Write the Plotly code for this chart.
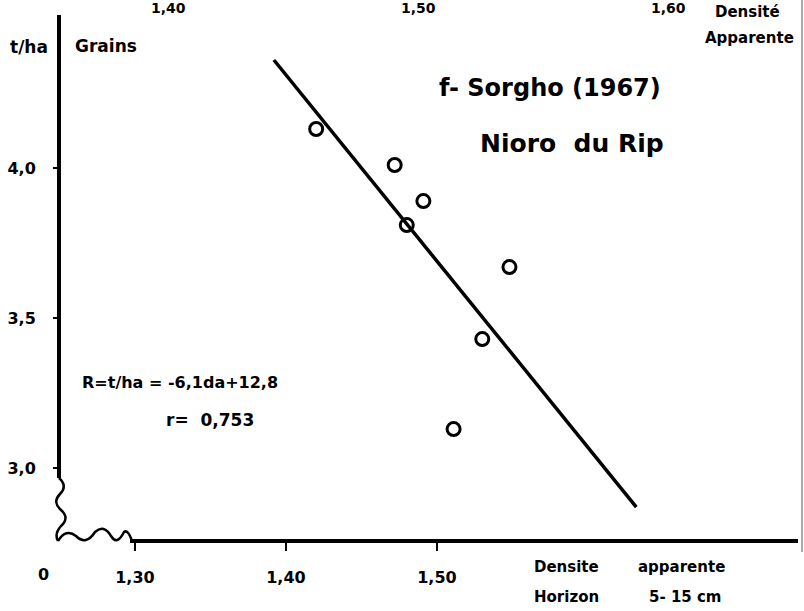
import plotly.graph_objects as go

# ---- data ----
density = [1.420, 1.472, 1.480, 1.491, 1.548, 1.530, 1.511]
yield_tha = [4.13, 4.01, 3.81, 3.89, 3.67, 3.43, 3.13]
reg_x = [1.392, 1.632]
reg_y = [4.36, 2.87]
x_ticks = [1.30, 1.40, 1.50]
x_ticktext = ["1,30", "1,40", "1,50"]
y_ticks = [3.0, 3.5, 4.0]
y_ticktext = ["3,0", "3,5", "4,0"]
top_ticks = [1.40, 1.50, 1.60]
top_ticktext = ["1,40", "1,50", "1,60"]

W, H = 804, 611
L, R, T, B = 59, 4, 15, 70
PW, PH = W - L - R, H - T - B
FONT = "DejaVu Sans, Liberation Sans, Arial"


def px(x):
    return (x - L) / PW


def py(y):
    return (H - B - y) / PH


fig = go.Figure()
fig.add_trace(go.Scatter(x=reg_x, y=reg_y, mode="lines",
                         line=dict(color="black", width=3.5), hoverinfo="skip"))
fig.add_trace(go.Scatter(x=density, y=yield_tha, mode="markers",
                         marker=dict(symbol="circle-open", size=13, color="black",
                                     line=dict(width=3, color="black"))))
fig.add_trace(go.Scatter(x=top_ticks, y=[None] * len(top_ticks), xaxis="x2",
                         mode="markers", hoverinfo="skip"))

fig.update_layout(
    width=W, height=H, showlegend=False,
    paper_bgcolor="white", plot_bgcolor="white",
    margin=dict(l=L, r=R, t=T, b=B),
    font=dict(family=FONT, color="black"),
    xaxis=dict(range=[1.2497, 1.7404], showgrid=False, zeroline=False, showline=False,
               tickvals=x_ticks, ticktext=x_ticktext, ticks="outside", ticklen=9,
               tickwidth=2, tickcolor="black", ticklabelstandoff=13,
               tickfont=dict(size=16, family=FONT, weight="bold")),
    xaxis2=dict(overlaying="x", side="top", range=[1.3564, 1.6528], showgrid=False,
                zeroline=False, showline=False, showticklabels=False, ticks=""),
    yaxis=dict(range=[2.757, 4.51], showgrid=False, zeroline=False, showline=False,
               tickvals=y_ticks, ticktext=y_ticktext, ticks="outside", ticklen=5,
               tickwidth=2, tickcolor="black", ticklabelstandoff=14,
               tickfont=dict(size=16, family=FONT, weight="bold")),
)

# axis lines with breaks
shapes = [
    dict(type="line", xref="paper", yref="paper", x0=0, x1=0, y0=py(478), y1=1,
         line=dict(color="black", width=4)),
    dict(type="line", xref="paper", yref="paper", x0=px(130), x1=px(798), y0=0, y1=0,
         line=dict(color="black", width=4)),
    dict(type="line", xref="paper", yref="paper", x0=px(802), x1=px(802), y0=py(552),
         y1=py(0), line=dict(color="#555555", width=1)),
]


def path(pts):
    s = "M %f,%f" % (px(pts[0][0]), py(pts[0][1]))
    for i in range(1, len(pts) - 1, 2):
        s += " Q %f,%f %f,%f" % (px(pts[i][0]), py(pts[i][1]), px(pts[i + 1][0]), py(pts[i + 1][1]))
    return s


wave_y = [(59, 478), (68, 486), (60, 494), (52, 502), (61, 510), (70, 518), (61, 526),
          (54, 534), (58, 541)]
wave_x = [(58, 541), (66, 528), (76, 536), (86, 546), (95, 532), (104, 524), (111, 536),
          (117, 546), (124, 532), (128, 529), (132, 541)]
for wv in (wave_y, wave_x):
    shapes.append(dict(type="path", xref="paper", yref="paper", path=path(wv),
                       line=dict(color="black", width=2.5)))
fig.update_layout(shapes=shapes)


def ann(text, x, y, size, xanchor="center"):
    fig.add_annotation(text=text, xref="paper", yref="paper", x=px(x), y=py(y),
                       xanchor=xanchor, yanchor="middle", showarrow=False,
                       font=dict(size=size, family=FONT, color="black", weight="bold"))


# top axis tick labels, placed through the secondary axis
for v, t in zip(top_ticks, top_ticktext):
    fig.add_annotation(text=t, xref="x2", yref="paper", x=v, y=py(8), xanchor="center",
                       yanchor="middle", showarrow=False,
                       font=dict(size=14, family=FONT, color="black", weight="bold"))

ann("t/ha", 8, 47, 17, "left")
ann("Grains", 73, 46, 17, "left")
ann("f- Sorgho (1967)", 550, 88, 24)
ann("Nioro  du Rip", 572, 143, 25)
ann("Densité", 747, 12, 15)
ann("Apparente", 749, 38, 15)
ann("R=t/ha = -6,1da+12,8", 80, 382, 16, "left")
ann("r=  0,753", 210, 420, 17)
ann("0", 43, 574, 16)
ann("Densite", 566, 567, 15)
ann("apparente", 681, 567, 15)
ann("Horizon", 566, 597, 15)
ann("5- 15 cm", 685, 597, 15)

fig.write_html("out.html", config={"displayModeBar": False},
               post_script="document.body.style.margin='0';")
